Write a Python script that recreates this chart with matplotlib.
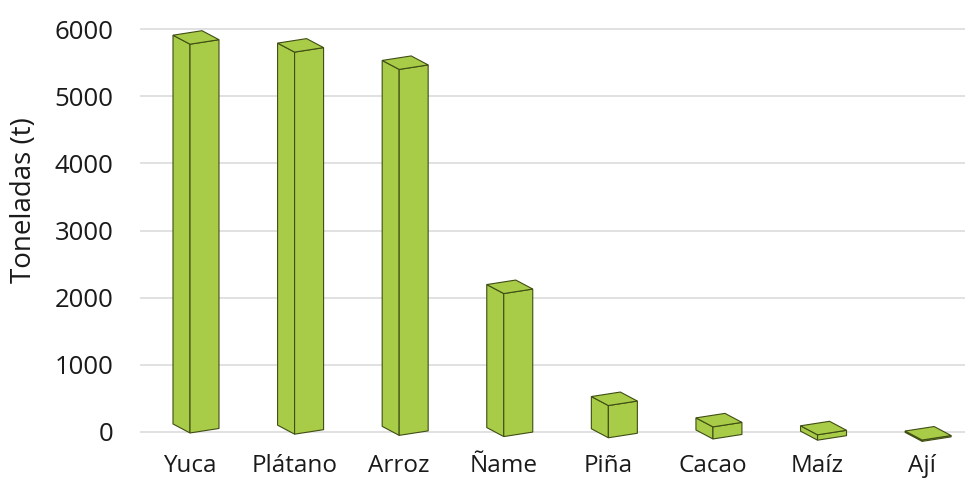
import matplotlib.pyplot as plt

# Datos: producción por cultivo (toneladas)
cultivos = ["Yuca", "Plátano", "Arroz", "Ñame", "Piña", "Cacao", "Maíz", "Ají"]
toneladas = [5790, 5690, 5450, 2130, 480, 180, 80, 20]
ticks_y = [0, 1000, 2000, 3000, 4000, 5000, 6000]

verde = "#a8cc48"
borde = "#3f4d14"
fuente = "Open Sans"

fig = plt.figure(figsize=(9.67, 4.78), dpi=100)
ax = fig.add_axes([140 / 967, 0.0682, 825 / 967, 0.892])
ax.set_xlim(-0.478, 7.41)
ax.set_ylim(-200, 6150)

# escala de pixeles -> unidades de datos (para el efecto 3D)
px_x = 104.6
px_y = 0.06717
wl = 17 / px_x      # ancho cara izquierda
wr = 29 / px_x      # ancho cara derecha
sl = 9 / px_y       # inclinación cara izquierda
sr = 4.5 / px_y     # inclinación cara derecha

for i, h in enumerate(toneladas):
    x = i
    b = -(1 + 1.2 * i) / px_y   # perspectiva: la base baja un poco hacia la derecha
    top = b + h
    # cara izquierda
    ax.fill([x - wl, x, x, x - wl], [b + sl, b, top, top + sl],
            facecolor=verde, edgecolor=borde, linewidth=0.8, zorder=3)
    # cara derecha
    ax.fill([x, x + wr, x + wr, x], [b, b + sr, top + sr, top],
            facecolor=verde, edgecolor=borde, linewidth=0.8, zorder=3)
    # tapa
    ax.fill([x, x - wl, x - wl + wr, x + wr], [top, top + sl, top + sl + sr, top + sr],
            facecolor=verde, edgecolor=borde, linewidth=0.8, zorder=4)

ax.set_yticks(ticks_y)
ax.set_yticklabels([str(t) for t in ticks_y])
ax.set_xticks(range(len(cultivos)))
ax.set_xticklabels(cultivos)
ax.tick_params(axis="y", length=0, pad=19, labelsize=18.5, labelcolor="#1a1a1a")
ax.tick_params(axis="x", length=0, pad=6, labelsize=17.5, labelcolor="#1a1a1a")
for lab in ax.get_xticklabels() + ax.get_yticklabels():
    lab.set_fontfamily(fuente)

ax.grid(axis="y", color="#d9d9d9", linewidth=1.1, zorder=0)
ax.set_axisbelow(True)
for s in ax.spines.values():
    s.set_visible(False)

fig.text(24 / 967, 1 - 200 / 478, "Toneladas (t)", rotation=90, ha="center", va="center",
         fontsize=20, family=fuente, color="#1a1a1a")

fig.savefig("out.png", dpi=100)
